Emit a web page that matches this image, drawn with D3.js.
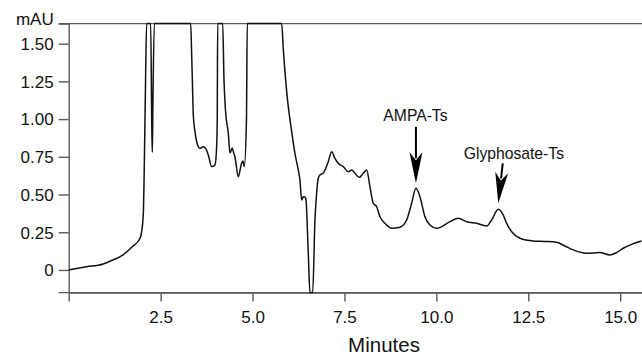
<!DOCTYPE html>
<html>
<head>
<meta charset="utf-8">
<script src="https://cdn.jsdelivr.net/npm/d3@7"></script>
<style>
  html, body { margin: 0; padding: 0; background: #fff; }
  svg { display: block; }
  text { font-family: "Liberation Sans", Arial, Helvetica, sans-serif; fill: #111; }
</style>
</head>
<body>
<svg id="chart" width="642" height="355"></svg>
<script>
// ---- data ----
const SAT = 1.633; // detector saturation / top of the plot (mAU tick)
const timeMin = [
  0, 0.44, 0.94, 1.2, 1.48, 1.72, 1.94, 1.985, 2.03, 2.05, 2.075, 2.09, 2.12,
  2.21, 2.23, 2.26, 2.275, 2.29, 2.33,
  3.318, 3.345, 3.367, 3.389, 3.435, 3.481, 3.571, 3.661, 3.734, 3.797, 3.889, 3.979, 4.02, 4.04, 4.052,
  4.188, 4.224, 4.264, 4.34, 4.387, 4.449, 4.48, 4.523, 4.612, 4.705, 4.74, 4.776, 4.835, 4.857,
  5.793, 5.836, 5.929, 6.065, 6.154, 6.244, 6.29, 6.337, 6.38, 6.426, 6.454, 6.516, 6.562,
  6.636, 6.698, 6.74, 6.788, 6.834, 6.924, 7.06, 7.153, 7.242, 7.332, 7.468, 7.604, 7.697,
  7.786, 7.903, 8.012, 8.105, 8.194, 8.284, 8.376, 8.466, 8.602, 8.784, 9.01, 9.192, 9.328,
  9.445, 9.554, 9.69, 9.826, 10.008, 10.144, 10.37, 10.596, 10.824, 11.096, 11.368, 11.504,
  11.684, 11.82, 11.912, 12.056, 12.274, 12.635, 12.95, 13.27, 13.5, 13.723, 14.088, 14.449,
  14.72, 14.9, 15.083, 15.31, 15.58
];
const absorbance = [
  0, 0.02, 0.04, 0.066, 0.10, 0.152, 0.21, 0.254, 0.378, 0.596, 0.994, 1.25, SAT,
  SAT, SAT, 0.95, 0.78, 1.1, SAT,
  SAT, 1.425, 1.226, 1.027, 0.917, 0.85, 0.806, 0.817, 0.802, 0.762, 0.685, 0.696, 0.795, 0.994, SAT,
  SAT, 1.259, 1.06, 0.908, 0.775, 0.808, 0.782, 0.749, 0.618, 0.709, 0.722, 0.685, 0.994, SAT,
  SAT, 1.469, 1.182, 0.917, 0.773, 0.663, 0.596, 0.464, 0.486, 0.484, 0.464, 0.113, -0.15,
  -0.15, 0.331, 0.497, 0.608, 0.63, 0.641, 0.718, 0.784, 0.74, 0.707, 0.685, 0.651, 0.663,
  0.641, 0.614, 0.641, 0.663, 0.552, 0.442, 0.419, 0.353, 0.309, 0.276, 0.283, 0.331, 0.442,
  0.541, 0.486, 0.353, 0.298, 0.276, 0.287, 0.32, 0.343, 0.32, 0.309, 0.292, 0.331,
  0.402, 0.364, 0.309, 0.252, 0.21, 0.192, 0.189, 0.183, 0.159, 0.133, 0.111, 0.115,
  0.099, 0.115, 0.144, 0.17, 0.192
];
const yTicks = [0, 0.25, 0.5, 0.75, 1.0, 1.25, 1.5, SAT];
const yTickLabels = ["0", "0.25", "0.50", "0.75", "1.00", "1.25", "1.50", "mAU"];
const xTicks = [0, 2.5, 5.0, 7.5, 10.0, 12.5, 15.0];
const xTickLabels = ["", "2.5", "5.0", "7.5", "10.0", "12.5", "15.0"];
const xLabel = "Minutes";
const peakNames = ["AMPA-Ts", "Glyphosate-Ts"];
const peakTimes = [9.445, 11.684];
const peakValues = [0.541, 0.402];

// ---- layout ----
const svg = d3.select("#chart");
const mLeft = 68.7, mRight = 641.5, mTop = 23.6, mBottom = 292.6;
const x = d3.scaleLinear().domain([0, 15.58]).range([mLeft, mRight]);
const y = d3.scaleLinear().domain([-0.15, SAT]).range([mBottom, mTop]);
const axisColor = "#5a5a5a";

// frame lines (top saturation line and bottom baseline)
svg.append("line").attr("x1", mLeft - 10).attr("x2", 642).attr("y1", y(SAT)).attr("y2", y(SAT))
  .attr("stroke", axisColor).attr("stroke-width", 1.4);
svg.append("line").attr("x1", mLeft - 10).attr("x2", 642).attr("y1", y(-0.15)).attr("y2", y(-0.15))
  .attr("stroke", axisColor).attr("stroke-width", 1.4);

// y axis
const yAxis = d3.axisLeft(y).tickValues(yTicks).tickSize(10).tickSizeOuter(0).tickPadding(5)
  .tickFormat((d, i) => yTickLabels[i]);
const gy = svg.append("g").attr("transform", `translate(${mLeft},0)`).call(yAxis);
gy.select(".domain").attr("stroke", axisColor).attr("stroke-width", 1.4);
gy.selectAll(".tick line").attr("stroke", axisColor).attr("stroke-width", 1.4);
gy.selectAll(".tick text").attr("font-size", 17).attr("fill", "#111")
  .attr("font-family", "Liberation Sans, Arial, sans-serif")
  .attr("dy", (d, i) => yTickLabels[i] === "mAU" ? "0.05em" : "0.34em");

// x axis
const xAxis = d3.axisBottom(x).tickValues(xTicks).tickSize(9).tickSizeOuter(0).tickPadding(9)
  .tickFormat((d, i) => xTickLabels[i]);
const gx = svg.append("g").attr("transform", `translate(0,${mBottom})`).call(xAxis);
gx.select(".domain").attr("stroke", axisColor).attr("stroke-width", 1.4);
gx.selectAll(".tick line").attr("stroke", axisColor).attr("stroke-width", 1.4);
gx.selectAll(".tick text").attr("font-size", 17).attr("fill", "#111")
  .attr("font-family", "Liberation Sans, Arial, sans-serif");

// x label
svg.append("text").attr("x", 384).attr("y", 351.5).attr("text-anchor", "middle")
  .attr("font-size", 20.5).text(xLabel);

// trace
const pts = timeMin.map((t, i) => [t, absorbance[i]]);
svg.append("path").datum(pts)
  .attr("fill", "none").attr("stroke", "#111").attr("stroke-width", 1.5)
  .attr("stroke-linejoin", "round")
  .attr("d", d3.line().curve(d3.curveMonotoneX).x(d => x(d[0])).y(d => y(d[1])));

// annotations with arrows (offsets relative to the annotated peak, in px)
const ann = [
  { tx: -0.5, ty: -67.6, lx: 0, ly: -61.5, gap: 5 },
  { tx: 15.6, ty: -50.8, lx: 4.5, ly: -46, gap: 6 }
];
peakNames.forEach((name, i) => {
  const px = x(peakTimes[i]), py = y(peakValues[i]);
  const a = ann[i];
  const tip = [px, py - a.gap];
  const tail = [px + a.lx, py + a.ly];
  const dx = tip[0] - tail[0], dy = tip[1] - tail[1];
  const len = Math.hypot(dx, dy), ux = dx / len, uy = dy / len;
  const headLen = 31, headW = 6.5;
  const bx = tip[0] - ux * headLen, by = tip[1] - uy * headLen;
  svg.append("line").attr("x1", tail[0]).attr("y1", tail[1]).attr("x2", bx + ux * 6).attr("y2", by + uy * 6)
    .attr("stroke", "#000").attr("stroke-width", 2);
  svg.append("path")
    .attr("d", `M${tip[0]},${tip[1]} L${bx - uy * headW},${by + ux * headW} L${bx + ux * 8},${by + uy * 8} L${bx + uy * headW},${by - ux * headW} Z`)
    .attr("fill", "#000");
  svg.append("text").attr("x", px + a.tx).attr("y", py + a.ty)
    .attr("text-anchor", "middle").attr("font-size", 15.7).text(name);
});
</script>
</body>
</html>
